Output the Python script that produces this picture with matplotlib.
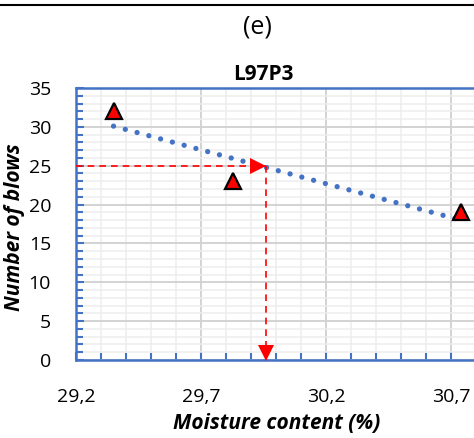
import matplotlib.pyplot as plt
import numpy as np

# data
moisture = [29.35, 29.83, 30.74]
blows = [32, 23, 19]
liquid_limit = 29.96
blows_ref = 25
x_ticks = [29.2, 29.7, 30.2, 30.7]
x_ticklabels = ["29,2", "29,7", "30,2", "30,7"]
y_ticks = [0, 5, 10, 15, 20, 25, 30, 35]

blue = "#4472C4"
plt.rcParams['font.family'] = ['Open Sans', 'DejaVu Sans']

fig = plt.figure(figsize=(4.74, 4.38), dpi=100)
ax = fig.add_axes([76 / 474, 78 / 438, 402 / 474, 272 / 438])

# linear trendline (Excel style, dotted)
coef = np.polyfit(moisture, blows, 1)
xt = np.linspace(min(moisture), max(moisture), 100)
ax.plot(xt, np.polyval(coef, xt), color=blue, lw=3.8, dashes=[0.01, 2.3],
        dash_capstyle='round', zorder=3)

# liquid limit construction
ax.plot([29.2, liquid_limit], [blows_ref, blows_ref], color='red', lw=1.2,
        dashes=[4, 3], zorder=4)
ax.plot([liquid_limit, liquid_limit], [blows_ref, 0], color='red', lw=1.2,
        dashes=[4, 3], zorder=4)
ax.plot(liquid_limit - 0.03, blows_ref, marker='>', color='red', ms=11, mew=0,
        zorder=5, clip_on=False)
ax.plot(liquid_limit, 0.95, marker='v', color='red', ms=11, mew=0,
        zorder=5, clip_on=False)

# measured points
ax.plot(moisture, blows, ls='none', marker='^', ms=11, mfc='red', mec='black',
        mew=1.6, zorder=6)

ax.set_xlim(29.2, 30.808)
ax.set_ylim(0, 35)
ax.set_xticks(x_ticks)
ax.set_xticklabels(x_ticklabels)
ax.set_yticks(y_ticks)
ax.set_xticks(np.arange(29.2, 30.75, 0.1), minor=True)
ax.set_yticks(np.arange(0, 35.1, 1), minor=True)

ax.grid(which='major', color='#D0D0D0', lw=1.3, zorder=0)
ax.grid(which='minor', color='#EDEDED', lw=1.1, zorder=0)
ax.set_axisbelow(True)

for s in ['left', 'bottom', 'top']:
    ax.spines[s].set_color(blue)
    ax.spines[s].set_linewidth(1.8)
ax.spines['right'].set_color('none')
ax.spines['right'].set_visible(False)

ax.tick_params(which='both', direction='in', color=blue, width=1.5,
               labelsize=14, top=False, right=False)
ax.tick_params(which='major', length=6, pad=6)
ax.tick_params(which='minor', length=5)
ax.tick_params(axis='x', pad=20)
ax.tick_params(axis='y', pad=18)

ax.set_title("L97P3", fontsize=15, fontweight='bold', x=0.465, pad=6)
ax.set_xlabel("Moisture content (%)", fontsize=15, fontweight='bold',
              style='italic', labelpad=5)
ax.set_ylabel("Number of blows", fontsize=15, fontweight='bold',
              style='italic')
ax.yaxis.set_label_coords(-51 / 402, 0.49)

fig.text(257 / 474, 1 - 27 / 438, "(e)", fontsize=18, ha='center', va='center')
fig.add_artist(plt.Line2D([0, 1], [1 - 5 / 438, 1 - 5 / 438], color='black',
                          lw=1.5, transform=fig.transFigure))

fig.savefig("out.png", dpi=100)
